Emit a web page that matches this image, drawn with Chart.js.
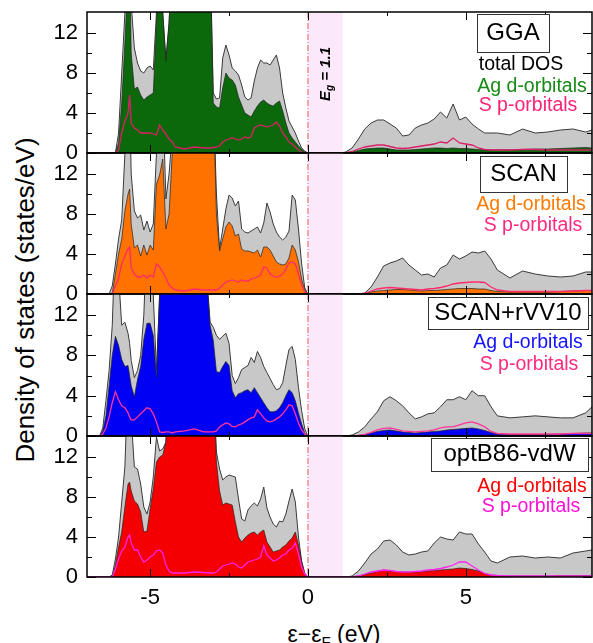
<!DOCTYPE html>
<html>
<head>
<meta charset="utf-8">
<script src="https://cdn.jsdelivr.net/npm/chart.js@4.4.1/dist/chart.umd.min.js"></script>
<style>
  html, body { margin: 0; padding: 0; background: #fff; }
  #wrap { position: relative; width: 593px; height: 643px; overflow: hidden;
          font-family: "Liberation Sans", Arial, sans-serif; color: #000; }
  #wrap canvas { position: absolute; left: 0; }
  .ytitle { position: absolute; left: -175px; top: 286px; width: 400px; height: 28px;
            line-height: 28px; font-size: 26px; text-align: center; white-space: nowrap;
            transform: rotate(-90deg); }
  .xtitle { position: absolute; left: 234px; top: 623px; width: 200px; line-height: 23px;
            font-size: 23px; text-align: center; white-space: nowrap; }
  .xtitle sub { font-size: 15px; vertical-align: -5px; line-height: 0; }
</style>
</head>
<body>
<div id="wrap">
  <div class="ytitle">Density of states (states/eV)</div>
  <div class="xtitle">ε−ε<sub>F</sub> (eV)</div>
</div>
<script>
// energy grid (eV), shared by every series
const energy = [
  -7.0, -6.6, -6.5, -6.4, -6.3, -6.2, -6.1, -6.0, -5.9, -5.8, -5.7,
  -5.65, -5.6, -5.5, -5.4, -5.3, -5.2, -5.1, -5.0, -4.9, -4.8, -4.7, -4.6, -4.5, -4.4, -4.3, -4.2,
  -3.9, -3.6, -3.3, -3.1,
  -3.0, -2.9, -2.8, -2.7, -2.6, -2.5, -2.4, -2.3, -2.2, -2.1, -2.0, -1.9, -1.8, -1.7, -1.6,
  -1.5, -1.4, -1.3, -1.2, -1.1, -1.0, -0.9, -0.8, -0.7, -0.6, -0.5, -0.4, -0.3, -0.2, -0.1, 0.0,
  1.0, 1.2, 1.4, 1.6, 1.8, 2.0, 2.2, 2.4, 2.6, 2.8, 3.0, 3.2, 3.4,
  3.6, 3.8, 4.0, 4.2, 4.4, 4.6, 4.8, 5.0, 5.2, 5.4, 5.6, 5.8, 6.0,
  6.4, 6.8, 7.2, 7.6, 8.0, 8.4, 8.8, 9.0
];

// GGA
const ggaTotal = [
  0, 0, 0, 0, 0, 0, 0, 2, 8, 14, 20,
  20, 15, 10.5, 9, 8.2, 8.0, 8.5, 8.7, 8.3, 14, 20, 14, 9.3, 13, 20, 20,
  20, 20, 20, 20,
  6, 5.4, 5.5, 9.5, 10.8, 9.8, 8.5, 8.2, 7.8, 6.8, 5.6, 5.3, 5.5, 7.2, 8.5,
  9.3, 9.0, 9.0, 8.8, 9.3, 9.8, 8.5, 6.0, 4.5, 3.2, 2.6, 2.0, 1.2, 0.5, 0.2, 0,
  0, 0.1, 0.5, 1.4, 2.4, 3.0, 3.3, 3.3, 2.9, 2.5, 1.7, 1.8, 2.5,
  2.8, 3.0, 3.4, 4.1, 3.5, 4.9, 3.3, 3.6, 2.9, 2.4, 2.0, 2.0, 2.0,
  1.8, 2.4, 2.0, 2.1, 2.3, 2.4, 2.1, 2.3
];
const ggaAgD = [
  0, 0, 0, 0, 0, 0, 0, 1, 5, 11, 18,
  20, 10, 6.4, 6.6, 5.8, 5.3, 5.6, 5.8, 6.0, 13, 20, 14, 9.2, 13, 20, 20,
  20, 20, 20, 20,
  5, 4.6, 4.5, 6.5, 8.0, 7.5, 7.3, 6.8, 5.6, 4.8, 4.0, 3.8, 3.6, 4.2, 4.7,
  5.1, 5.3, 5.0, 4.8, 4.7, 5.0, 5.2, 4.2, 3.0, 2.0, 1.5, 1.1, 0.7, 0.4, 0.1, 0,
  0, 0, 0.1, 0.25, 0.4, 0.45, 0.5, 0.5, 0.4, 0.3, 0.3, 0.3, 0.35,
  0.4, 0.45, 0.5, 0.5, 0.45, 0.5, 0.45, 0.45, 0.4, 0.35, 0.3, 0.3, 0.3,
  0.3, 0.35, 0.4, 0.4, 0.45, 0.5, 0.55, 0.5
];
const ggaSP = [
  0, 0, 0, 0, 0, 0, 0, 0.3, 2.0, 3.2, 4.0,
  5.8, 3.0, 2.5, 2.3, 2.0, 2.0, 2.0, 2.0, 1.9, 1.8, 2.8, 2.3, 1.9, 1.4, 1.1, 0.6,
  0.4, 0.6, 0.5, 0.5,
  0.55, 0.6, 0.7, 1.1, 1.3, 1.4, 1.5, 1.4, 1.3, 1.4, 1.6, 1.5, 1.6, 2.5, 2.7,
  2.8, 2.7, 2.6, 2.7, 2.8, 3.1, 2.7, 2.0, 1.6, 1.1, 0.9, 0.6, 0.3, 0.1, 0, 0,
  0, 0, 0.15, 0.4, 0.6, 0.7, 0.8, 0.8, 0.65, 0.5, 0.45, 0.5, 0.6,
  0.7, 0.8, 0.9, 1.1, 1.0, 1.5, 1.0, 0.9, 0.8, 0.5, 0.35, 0.3, 0.3,
  0.3, 0.35, 0.35, 0.3, 0.3, 0.3, 0.3, 0.3
];

// SCAN
const scanTotal = [
  0, 0, 0, 0, 0, 0.8, 3.0, 5.5, 7.4, 14, 20,
  20, 12, 8.3, 7.6, 7.9, 6.4, 7.3, 6.2, 7.0, 14, 20, 20, 9.5, 12, 16, 20,
  20, 20, 20, 20,
  20, 10, 4.5, 6.5, 8.5, 9.9, 9.6, 8.8, 9.3, 6.5, 6.2, 6.1, 6.3, 6.5, 6.7,
  6.1, 7.1, 9.1, 8.2, 7.0, 6.2, 5.7, 5.4, 5.7, 6.3, 9.9, 9.4, 6.5, 3.0, 0.6, 0,
  0, 0, 0, 0, 0.1, 0.7, 1.7, 2.8, 3.1, 3.3, 3.6, 2.9, 2.4,
  1.9, 2.0, 1.7, 2.6, 2.9, 3.9, 3.5, 3.8, 4.2, 4.1, 4.3, 3.5, 2.4,
  1.6, 2.3, 2.0, 1.8, 1.7, 1.8, 2.2, 2.2
];
const scanAgD = [
  0, 0, 0, 0, 0, 0.1, 2.0, 4.0, 5.5, 8.3, 10.0,
  10.5, 7.0, 4.6, 4.9, 3.8, 4.9, 3.9, 4.9, 4.4, 11.0, 11.9, 13.5, 6.5, 8, 14, 20,
  20, 20, 20, 20,
  20, 8, 4.3, 5.5, 6.7, 7.2, 6.8, 5.8, 6.0, 4.5, 4.3, 4.3, 4.2, 4.1, 4.4,
  3.7, 4.7, 4.7, 4.4, 3.8, 3.2, 3.0, 2.9, 3.0, 3.6, 4.9, 4.4, 3.2, 1.5, 0.4, 0,
  0, 0, 0, 0, 0.05, 0.2, 0.3, 0.35, 0.4, 0.45, 0.45, 0.4, 0.35,
  0.3, 0.35, 0.35, 0.4, 0.45, 0.5, 0.55, 0.55, 0.55, 0.5, 0.5, 0.35, 0.25,
  0.2, 0.2, 0.2, 0.2, 0.25, 0.3, 0.35, 0.35
];
const scanSP = [
  0, 0, 0, 0, 0, 0, 0.8, 1.6, 3.0, 3.8, 4.5,
  4.7, 2.6, 2.0, 1.7, 1.7, 1.9, 1.6, 1.9, 1.7, 3.0, 2.7, 2.2, 1.6, 0.9, 0.6, 0.4,
  0.3, 0.5, 0.4, 0.4,
  0.4, 0.4, 0.6, 0.9, 1.2, 1.3, 1.4, 1.3, 1.2, 1.4, 1.3, 1.3, 1.5, 1.6, 1.7,
  1.9, 2.7, 2.6, 2.0, 1.8, 1.7, 1.8, 2.0, 2.5, 3.1, 3.2, 3.0, 2.0, 0.9, 0.2, 0,
  0, 0, 0, 0, 0.05, 0.3, 0.5, 0.6, 0.65, 0.6, 0.55, 0.5, 0.45,
  0.4, 0.5, 0.55, 0.65, 0.8, 1.0, 1.1, 1.15, 1.2, 1.2, 1.15, 0.7, 0.4,
  0.25, 0.25, 0.25, 0.25, 0.25, 0.3, 0.35, 0.35
];

// SCAN+rVV10
const rvvTotal = [
  0, 0, 0.8, 3.5, 6.5, 11, 20, 16, 11, 11.3, 10.2,
  9.2, 7.5, 5.8, 6.5, 8.0, 12, 20, 20, 14, 6.5, 14, 20, 20, 20, 20, 20,
  20, 20, 20, 11.3,
  10.8, 10.0, 9.6, 9.9, 10.2, 9.2, 6.0, 5.2, 5.8, 6.6, 6.8, 7.0, 7.8, 7.3, 8.4,
  7.8, 6.9, 6.3, 5.7, 5.1, 4.6, 4.7, 5.3, 7.0, 8.6, 8.9, 7.6, 4.8, 2.5, 0.7, 0,
  0, 0, 0.1, 0.4, 0.9, 1.7, 2.4, 3.5, 3.9, 3.5, 3.0, 2.3, 1.7,
  1.9, 2.2, 2.3, 2.9, 3.6, 3.6, 3.9, 3.6, 4.5, 4.0, 4.0, 2.9, 2.0,
  1.8, 1.9, 2.0, 1.9, 1.8, 1.8, 2.3, 2.9
];
const rvvAgD = [
  0, 0, 0.5, 2.0, 5.0, 8.0, 9.9, 9.0, 7.6, 6.9, 7.0,
  6.0, 5.0, 3.9, 5.6, 6.9, 9.6, 11.2, 11.2, 10.0, 5.8, 14, 20, 20, 20, 20, 20,
  20, 20, 20, 11.0,
  9.5, 6.4, 6.3, 6.9, 7.4, 7.0, 4.5, 3.8, 4.2, 4.3, 4.5, 4.6, 4.3, 4.8, 4.3,
  3.8, 3.3, 2.8, 2.4, 2.4, 2.5, 2.8, 3.3, 4.0, 4.6, 4.3, 3.5, 2.3, 1.2, 0.3, 0,
  0, 0, 0, 0.05, 0.15, 0.3, 0.45, 0.55, 0.6, 0.5, 0.4, 0.35, 0.3,
  0.35, 0.4, 0.45, 0.5, 0.6, 0.65, 0.7, 0.75, 0.8, 0.7, 0.55, 0.35, 0.2,
  0.15, 0.15, 0.15, 0.15, 0.2, 0.25, 0.3, 0.3
];
const rvvSP = [
  0, 0, 0.2, 0.8, 1.9, 3.3, 4.4, 3.6, 3.0, 2.8, 2.3,
  1.9, 1.6, 1.6, 1.9, 2.2, 2.5, 2.8, 2.7, 2.2, 1.4, 0.4, 0.35, 0.4, 0.4, 0.3, 0.4,
  0.5, 0.7, 0.4, 0.4,
  0.4, 0.5, 0.9, 1.1, 1.3, 1.2, 0.95, 0.9, 1.1, 1.2, 1.4, 1.6, 1.8, 1.9, 2.6,
  2.2, 1.8, 1.5, 1.4, 1.5, 1.7, 1.9, 2.2, 2.6, 3.1, 3.0, 2.2, 1.3, 0.6, 0.2, 0,
  0, 0, 0, 0.05, 0.15, 0.35, 0.6, 0.75, 0.8, 0.65, 0.5, 0.45, 0.4,
  0.45, 0.5, 0.6, 0.8, 0.9, 0.9, 1.1, 1.3, 1.4, 1.2, 0.9, 0.45, 0.25,
  0.2, 0.2, 0.2, 0.2, 0.2, 0.25, 0.25, 0.25
];

// optB86-vdW
const optTotal = [
  0, 0, 0, 0, 0, 0.2, 1.8, 4.0, 7.5, 11, 20,
  20, 16, 11, 10.8, 9.3, 7.0, 6.3, 7.5, 10, 14, 12.6, 12.8, 13.5, 20, 20, 20,
  20, 20, 20, 20,
  20, 12.5, 10.8, 9.7, 10.0, 10.2, 10.1, 10.0, 7.8, 5.8, 5.6, 6.7, 7.1, 7.4, 7.1,
  7.8, 9.0, 6.9, 6.0, 5.3, 5.0, 5.6, 5.5, 6.3, 7.6, 8.8, 7.5, 4.0, 1.6, 0.3, 0,
  0, 0, 0.1, 0.6, 1.4, 2.3, 2.8, 3.6, 3.7, 3.2, 2.5, 2.2, 2.3,
  2.5, 2.6, 3.4, 4.0, 3.8, 3.7, 4.5, 4.3, 4.3, 3.3, 2.5, 1.6, 1.4,
  2.0, 2.1, 1.9, 2.0, 1.9, 2.4, 2.6, 2.7
];
const optAgD = [
  0, 0, 0, 0, 0, 0, 1.2, 3.0, 4.5, 7.0, 9.3,
  9.5, 8.6, 7.6, 7.3, 6.5, 4.5, 4.6, 6.8, 8.8, 11.5, 12.0, 12.2, 13.5, 20, 20, 20,
  20, 20, 20, 20,
  20, 11.5, 8.6, 7.2, 7.4, 7.3, 7.2, 5.5, 4.0, 3.5, 3.9, 4.2, 4.4, 4.5, 4.2,
  4.5, 4.7, 3.5, 3.0, 2.5, 2.6, 2.7, 3.0, 3.2, 3.6, 3.9, 4.5, 3.2, 1.5, 0.4, 0,
  0, 0, 0, 0.1, 0.25, 0.4, 0.55, 0.7, 0.6, 0.55, 0.5, 0.5, 0.5,
  0.55, 0.6, 0.65, 0.7, 0.75, 0.8, 0.9, 0.85, 0.75, 0.6, 0.35, 0.2, 0.15,
  0.1, 0.1, 0.1, 0.1, 0.15, 0.15, 0.15, 0.15
];
const optSP = [
  0, 0, 0, 0, 0, 0, 0.8, 1.8, 2.6, 3.0, 4.0,
  4.2, 3.4, 2.7, 2.7, 2.0, 1.5, 1.7, 2.0, 2.2, 2.6, 2.7, 2.4, 1.2, 0.6, 0.4, 0.4,
  0.4, 0.5, 0.45, 0.4,
  0.4, 0.5, 0.8, 1.1, 1.2, 1.3, 1.4, 1.3, 1.0, 0.9, 1.2, 1.5, 1.6, 1.7, 1.8,
  2.0, 3.1, 2.2, 1.9, 1.6, 1.7, 1.9, 2.2, 2.3, 2.7, 2.9, 3.4, 2.3, 1.0, 0.3, 0,
  0, 0, 0, 0.1, 0.3, 0.5, 0.6, 0.7, 0.65, 0.55, 0.5, 0.5, 0.55,
  0.6, 0.7, 0.75, 0.85, 1.0, 1.2, 1.5, 1.5, 1.1, 0.7, 0.35, 0.2, 0.15,
  0.1, 0.1, 0.1, 0.1, 0.1, 0.1, 0.1, 0.1
];

const bandGap = 1.1;
const xRange = [-7, 9];
const yRange = [0, 14.1];
const xTicks = [-5, 0, 5];
const xMinorTicks = [-2.5, 2.5, 7.5];
const yTicks = [0, 4, 8, 12];
const yMinorTicks = [2, 6, 10];

const FONT = '"Liberation Sans", Arial, sans-serif';
const W = 593, H = 643;
const AREA_LEFT = 87, AREA_RIGHT = 592, PAD = 12;
const panelTops = [12, 153, 294, 436];
const panelBottoms = [153, 294, 436, 577];

const panels = [
  {
    name: 'GGA', total: ggaTotal, d: ggaAgD, p: ggaSP,
    dFill: '#0b680b', dText: '#168a16', pLine: '#dc1f66', pText: '#ff2277',
    box: [477, 549, 2, 40], nameY: 21,
    rows: [['total DOS', '#000', 521, 53], ['Ag d-orbitals', 'd', 532, 75], ['S p-orbitals', 'p', 528, 94]]
  },
  {
    name: 'SCAN', total: scanTotal, d: scanAgD, p: scanSP,
    dFill: '#ff7200', dText: '#ff7a00', pLine: '#ff2a6a', pText: '#ff2a80',
    box: [480, 567, 3, 39], nameY: 21,
    rows: [['Ag d-orbitals', 'd', 531, 52], ['S p-orbitals', 'p', 533, 73]]
  },
  {
    name: 'SCAN+rVV10', total: rvvTotal, d: rvvAgD, p: rvvSP,
    dFill: '#0000f4', dText: '#1414ff', pLine: '#ff3399', pText: '#ff2a7f',
    box: [428, 588, 3, 35], nameY: 19,
    rows: [['Ag d-orbitals', 'd', 528, 49], ['S p-orbitals', 'p', 529, 71]]
  },
  {
    name: 'optB86-vdW', total: optTotal, d: optAgD, p: optSP,
    dFill: '#f40000', dText: '#ff0000', pLine: '#ff22ee', pText: '#ff10d8',
    box: [431, 588, 2, 35], nameY: 18.5,
    rows: [['Ag d-orbitals', 'd', 532, 51], ['S p-orbitals', 'p', 531, 71]]
  }
];

function pts(vals) {
  return energy.map((e, i) => ({ x: e, y: vals[i] }));
}

// no extra label padding: panel edges must land on exact pixels
function noPad(s) {
  s.paddingTop = 0; s.paddingBottom = 0; s.paddingLeft = 0; s.paddingRight = 0;
}

function makeDecor(panel, index) {
  return {
    id: 'decor' + index,
    beforeDatasetsDraw(chart) {
      const { ctx, chartArea: a, scales: { x } } = chart;
      const x0 = x.getPixelForValue(0), x1 = x.getPixelForValue(bandGap);
      ctx.save();
      ctx.fillStyle = '#fbe8fb';
      ctx.fillRect(x0, a.top, x1 - x0, a.bottom - a.top);
      ctx.strokeStyle = '#e85a5a';
      ctx.lineWidth = 1;
      ctx.setLineDash([6, 2, 1, 2]);
      ctx.beginPath();
      ctx.moveTo(x0, a.top);
      ctx.lineTo(x0, a.bottom);
      ctx.stroke();
      ctx.restore();
    },
    afterDatasetsDraw(chart) {
      const { ctx, chartArea: a, scales: { x, y } } = chart;
      ctx.save();
      // frame
      ctx.strokeStyle = '#000';
      ctx.lineWidth = 1.5;
      ctx.strokeRect(a.left, a.top, a.right - a.left, a.bottom - a.top);
      // inward ticks
      ctx.lineWidth = 1;
      ctx.beginPath();
      const yt = (list, len) => list.forEach(v => {
        const py = Math.round(y.getPixelForValue(v)) + 0.5;
        ctx.moveTo(a.left, py); ctx.lineTo(a.left + len, py);
        ctx.moveTo(a.right, py); ctx.lineTo(a.right - len, py);
      });
      const xt = (list, len) => list.forEach(v => {
        const px = Math.round(x.getPixelForValue(v)) + 0.5;
        ctx.moveTo(px, a.top); ctx.lineTo(px, a.top + len);
        ctx.moveTo(px, a.bottom); ctx.lineTo(px, a.bottom - len);
      });
      yt(yTicks, 9); yt(yMinorTicks, 5);
      xt(xTicks, 8); xt(xMinorTicks, 4);
      ctx.stroke();

      // panel label box
      const [bl, br, bt, bb] = panel.box;
      ctx.fillStyle = '#fff';
      ctx.fillRect(bl, a.top + bt, br - bl, bb - bt);
      ctx.strokeStyle = '#333';
      ctx.lineWidth = 1;
      ctx.strokeRect(bl + 0.5, a.top + bt + 0.5, br - bl, bb - bt);
      ctx.textAlign = 'center';
      ctx.textBaseline = 'middle';
      ctx.fillStyle = '#000';
      ctx.font = '24px ' + FONT;
      ctx.fillText(panel.name, (bl + br) / 2, a.top + panel.nameY);
      ctx.font = '19.5px ' + FONT;
      panel.rows.forEach(([text, col, cx, dy]) => {
        ctx.fillStyle = col === 'd' ? panel.dText : col === 'p' ? panel.pText : col;
        ctx.fillText(text, cx, a.top + dy);
      });

      // band gap label
      if (index === 0) {
        const cx = x.getPixelForValue(bandGap / 2) + 1;
        const cy = a.top + 62;
        ctx.translate(cx, cy);
        ctx.rotate(-Math.PI / 2);
        ctx.fillStyle = '#000';
        ctx.textAlign = 'left';
        const big = 'italic bold 15px ' + FONT, small = 'italic bold 10px ' + FONT;
        const rest = ' = ' + bandGap.toFixed(1);
        ctx.font = big; const wE = ctx.measureText('E').width; const wR = ctx.measureText(rest).width;
        ctx.font = small; const wg = ctx.measureText('g').width;
        let x0 = -(wE + wg + wR) / 2;
        ctx.font = big; ctx.fillText('E', x0, 0);
        ctx.font = small; ctx.fillText('g', x0 + wE, 4);
        ctx.font = big; ctx.fillText(rest, x0 + wE + wg, 0);
      }
      ctx.restore();
    }
  };
}

const wrap = document.getElementById('wrap');
panels.forEach((panel, i) => {
  const last = i === panels.length - 1;
  const top = panelTops[i], bottom = panelBottoms[i];
  const cTop = top - PAD;
  const cH = last ? H - cTop : bottom - top + 2 * PAD;
  const canvas = document.createElement('canvas');
  canvas.width = W; canvas.height = cH;
  canvas.style.top = cTop + 'px';
  canvas.style.width = W + 'px'; canvas.style.height = cH + 'px';
  wrap.appendChild(canvas);

  new Chart(canvas, {
    type: 'line',
    data: {
      datasets: [
        { data: pts(panel.total), order: 3, fill: 'origin', backgroundColor: '#c8c8c8',
          borderColor: '#3a3a3a', borderWidth: 1 },
        { data: pts(panel.d), order: 2, fill: 'origin', backgroundColor: panel.dFill,
          borderColor: '#222', borderWidth: 0.7 },
        { data: pts(panel.p), order: 1, fill: false, borderColor: panel.pLine, borderWidth: 1.3 }
      ]
    },
    options: {
      responsive: false,
      animation: false,
      devicePixelRatio: 1,
      layout: { padding: { top: PAD, bottom: last ? 0 : PAD, left: 0, right: W - AREA_RIGHT } },
      elements: { point: { radius: 0 }, line: { tension: 0 } },
      plugins: { legend: { display: false }, tooltip: { enabled: false } },
      scales: {
        x: {
          type: 'linear', min: xRange[0], max: xRange[1], display: last,
          grid: { display: false, drawTicks: false }, border: { display: false },
          afterBuildTicks: s => { s.ticks = xTicks.map(v => ({ value: v })); },
          afterFit: s => { s.height = last ? H - bottom : 0; noPad(s); },
          ticks: { font: { size: 22, family: FONT }, color: '#000', padding: 8, maxRotation: 0 }
        },
        y: {
          min: yRange[0], max: yRange[1],
          grid: { display: false, drawTicks: false }, border: { display: false },
          afterBuildTicks: s => { s.ticks = yTicks.map(v => ({ value: v })); },
          afterFit: s => { s.width = AREA_LEFT; noPad(s); },
          ticks: { font: { size: 22, family: FONT }, color: '#000', padding: 9 }
        }
      }
    },
    plugins: [makeDecor(panel, i)]
  });
});
</script>
</body>
</html>
